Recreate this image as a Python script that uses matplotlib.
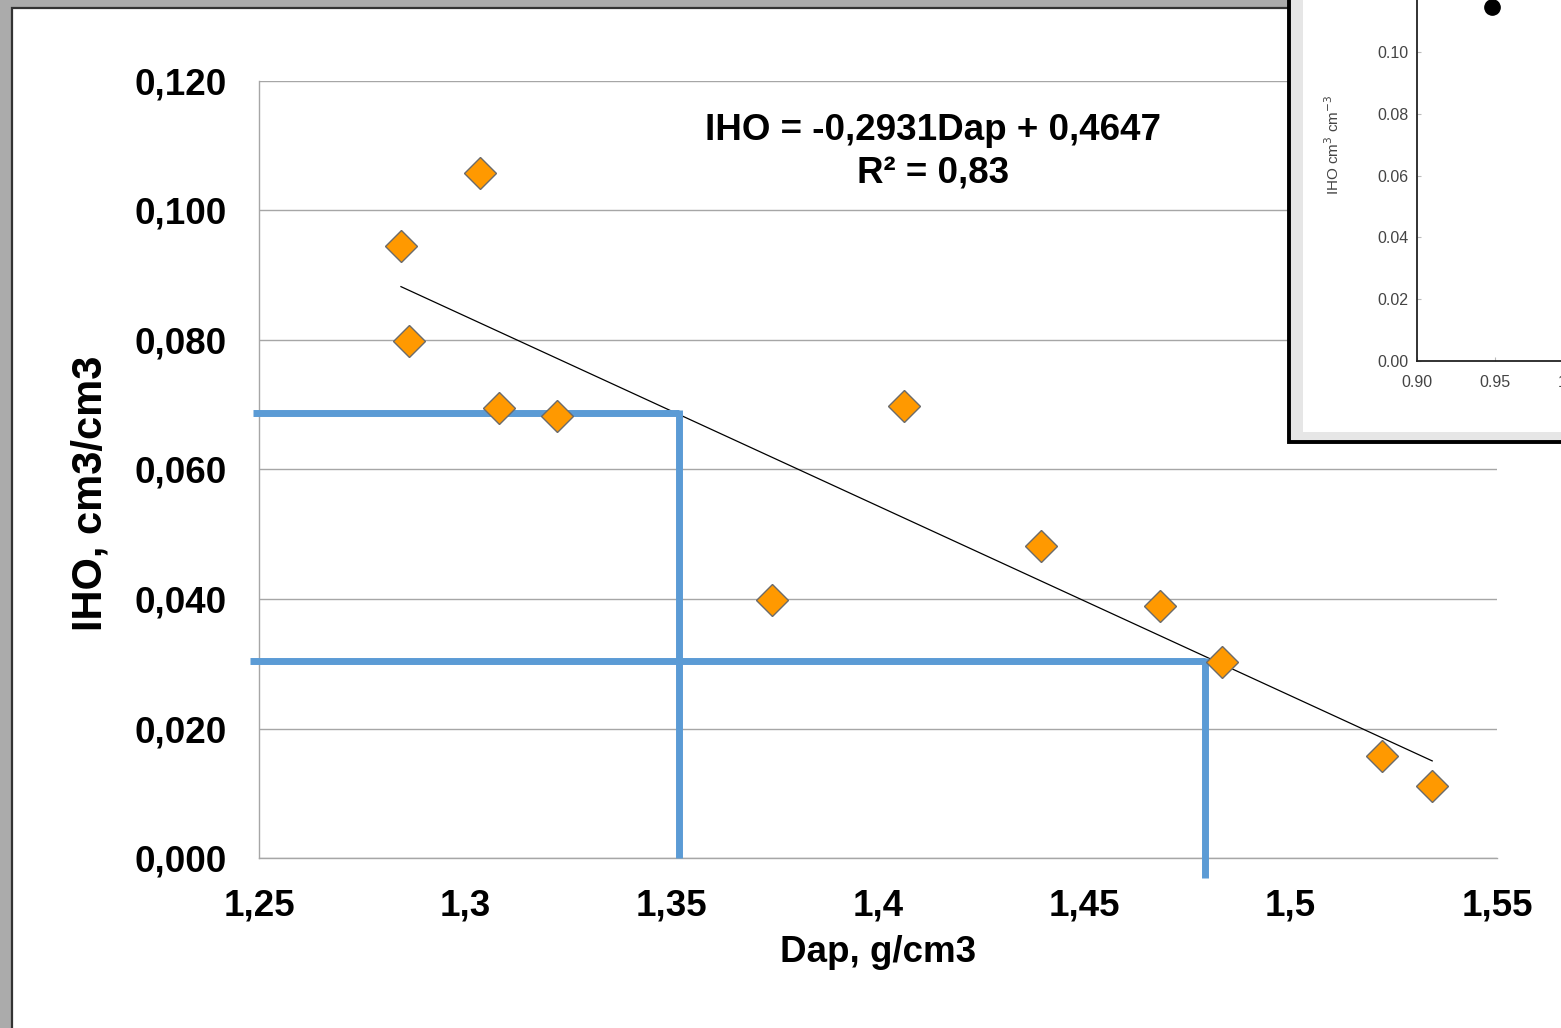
import numpy as np
import matplotlib
matplotlib.use('Agg')
import matplotlib.pyplot as plt
from matplotlib.patches import Rectangle
from matplotlib.ticker import FuncFormatter

# data
dap = [1.2844, 1.3036, 1.2863, 1.3082, 1.3222, 1.3743, 1.4063, 1.4395, 1.4683, 1.4834, 1.5221, 1.5343]
iho = [0.0945, 0.1058, 0.0798, 0.0695, 0.0683, 0.0398, 0.0698, 0.0482, 0.0389, 0.0303, 0.0158, 0.0111]

# trend line  IHO = a*Dap + b
slope = -0.2931
intercept = 0.4647

# blue read-off lines (critical Dap / IHO values)
ref_iho = [0.0687, 0.0304]
ref_dap = [1.3518, 1.4792]
ref_start = [1.2485, 1.2478]
ref_bottom = [0.0, -0.0031]

xticks = [1.25, 1.3, 1.35, 1.4, 1.45, 1.5, 1.55]
xtick_labels = ['1,25', '1,3', '1,35', '1,4', '1,45', '1,5', '1,55']
yticks = [0.0, 0.02, 0.04, 0.06, 0.08, 0.10, 0.12]

# inset (other study) - only one point visible
inset_x = [0.948]
inset_y = [0.1146]

W, H = 1561, 1028
plt.rcParams['font.family'] = ['Liberation Sans', 'DejaVu Sans']
fig = plt.figure(figsize=(W / 100, H / 100), dpi=100)
fig.patch.set_facecolor('#ababab')

def px(x0, y0, x1, y1):
    # pixel box (top-left origin) -> figure fraction rect
    return [x0 / W, (H - y1) / H, (x1 - x0) / W, (y1 - y0) / H]

# white page with dark edge
r = px(12, 8, 1700, 1200)
fig.add_artist(Rectangle((r[0], r[1]), r[2], r[3], transform=fig.transFigure,
                         facecolor='white', edgecolor='#333333', lw=1.6, zorder=-5))

ax = fig.add_axes(px(259, 81, 1497, 858))
ax.set_xlim(1.25, 1.55)
ax.set_ylim(0, 0.12)
for s in ['top', 'right']:
    ax.spines[s].set_visible(False)
for s in ['left', 'bottom']:
    ax.spines[s].set_color('#a6a6a6')
    ax.spines[s].set_linewidth(1.0)
ax.set_yticks(yticks)
ax.yaxis.set_major_formatter(FuncFormatter(lambda v, p: ('%.3f' % v).replace('.', ',')))
ax.set_xticks(xticks)
ax.set_xticklabels(xtick_labels)
ax.tick_params(axis='both', length=0, labelsize=26.5)
ax.tick_params(axis='y', pad=23)
ax.tick_params(axis='x', pad=22)
for lab in ax.get_xticklabels() + ax.get_yticklabels():
    lab.set_fontweight('bold')
ax.grid(axis='y', color='#a6a6a6', lw=1.0)
ax.set_axisbelow(True)

xs = np.array([min(dap), max(dap)])
ax.plot(xs, slope * xs + intercept, color='black', lw=0.9, zorder=2)

for yv, xv, x0, yb in zip(ref_iho, ref_dap, ref_start, ref_bottom):
    ax.plot([x0, xv], [yv, yv], color='#5b9bd5', lw=5, solid_capstyle='butt', clip_on=False, zorder=3)
    ax.plot([xv, xv], [yv + 0.0005, yb], color='#5b9bd5', lw=5, solid_capstyle='butt', clip_on=False, zorder=3)

ax.plot(dap, iho, linestyle='none', marker='D', markersize=16, markerfacecolor='#ff9900',
        markeredgecolor='#6b6b6b', markeredgewidth=1.0, zorder=4)

fig.text(933 / W, 1 - 130 / H, 'IHO = -0,2931Dap + 0,4647', ha='center', va='center',
         fontsize=26.5, fontweight='bold')
fig.text(933 / W, 1 - 173 / H, 'R² = 0,83', ha='center', va='center',
         fontsize=26.5, fontweight='bold')
fig.text(878 / W, 1 - 953 / H, 'Dap, g/cm3', ha='center', va='center',
         fontsize=26.5, fontweight='bold')
fig.text(90 / W, 1 - 493 / H, 'IHO, cm3/cm3', ha='center', va='center', rotation=90,
         fontsize=30, fontweight='bold')

# inset picture frame
r = px(1289, -20, 1700, 442)
fig.add_artist(Rectangle((r[0], r[1]), r[2], r[3], transform=fig.transFigure,
                         facecolor='#e6e6e6', edgecolor='black', lw=2.8, zorder=5))
r = px(1303, -20, 1700, 432)
fig.add_artist(Rectangle((r[0], r[1]), r[2], r[3], transform=fig.transFigure,
                         facecolor='white', edgecolor='none', zorder=6))

ax2 = fig.add_axes(px(1417, -10, 1729, 361))
ax2.set_zorder(7)
ax2.patch.set_alpha(0)
ax2.set_xlim(0.90, 1.10)
ax2.set_ylim(0, 0.12)
for s in ['top', 'right']:
    ax2.spines[s].set_visible(False)
for s in ['left', 'bottom']:
    ax2.spines[s].set_color('#222222')
    ax2.spines[s].set_linewidth(1.3)
ax2.set_xticks([0.90, 0.95, 1.00, 1.05])
ax2.set_yticks([0.0, 0.02, 0.04, 0.06, 0.08, 0.10])
ax2.xaxis.set_major_formatter(FuncFormatter(lambda v, p: '%.2f' % v))
ax2.yaxis.set_major_formatter(FuncFormatter(lambda v, p: '%.2f' % v))
ax2.tick_params(direction='in', length=3, color='#bbbbbb', labelsize=11.5,
                labelcolor='#444444', pad=6)
ax2.tick_params(axis='x', pad=10)
ax2.plot(inset_x, inset_y, linestyle='none', marker='o', markersize=11,
         markerfacecolor='black', markeredgecolor='black', clip_on=False)
fig.text(1333 / W, 1 - 145 / H, 'IHO cm$^3$ cm$^{-3}$', ha='center', va='center',
         rotation=90, fontsize=11, color='#444444', zorder=8)

fig.savefig('out.png', dpi=100)
